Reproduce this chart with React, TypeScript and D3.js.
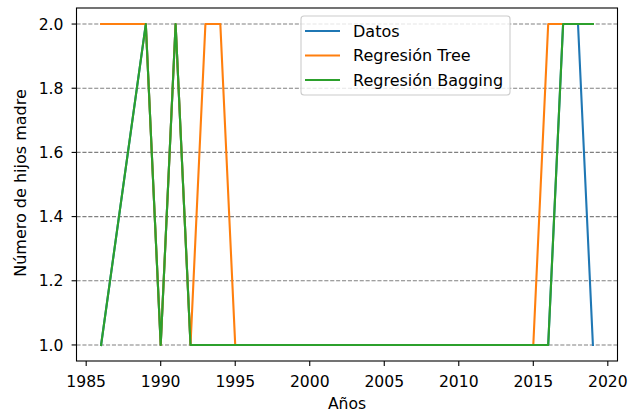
import React from "react";
import * as d3 from "d3";

const years = [1986, 1989, 1990, 1991, 1992, 1993, 1994, 1995, 1996, 1997, 1998, 1999, 2000, 2001, 2002, 2003, 2004, 2005, 2006, 2007, 2008, 2009, 2010, 2011, 2012, 2013, 2014, 2015, 2016, 2017, 2018, 2019];
const datos = [1, 2, 1, 2, 1, 1, 1, 1, 1, 1, 1, 1, 1, 1, 1, 1, 1, 1, 1, 1, 1, 1, 1, 1, 1, 1, 1, 1, 1, 2, 2, 1];
const tree = [2, 2, 1, 2, 1, 2, 2, 1, 1, 1, 1, 1, 1, 1, 1, 1, 1, 1, 1, 1, 1, 1, 1, 1, 1, 1, 1, 1, 2, 2, 2, 2];
const bagging = [1, 2, 1, 2, 1, 1, 1, 1, 1, 1, 1, 1, 1, 1, 1, 1, 1, 1, 1, 1, 1, 1, 1, 1, 1, 1, 1, 1, 1, 2, 2, 2];
const xTicks = [1985, 1990, 1995, 2000, 2005, 2010, 2015, 2020];
const yTicks = [1.0, 1.2, 1.4, 1.6, 1.8, 2.0];
const seriesNames = ["Datos", "Regresión Tree", "Regresión Bagging"];
const seriesColors = ["#1f77b4", "#ff7f0e", "#2ca02c"];

const W = 638, H = 412;
const L = 76.5, R = 617.5, T = 8, B = 361;
const FONT = "DejaVu Sans, sans-serif";
const FS = 15.6;
const FSL = 16;

export default function App() {
  const x = d3.scaleLinear().domain([1984.35, 2020.65]).range([L, R]);
  const y = d3.scaleLinear().domain([0.95, 2.05]).range([B, T]);
  const series = [datos, tree, bagging];
  const line = d3.line<number>().x((_, i) => x(years[i])).y((d) => y(d));

  return (
    <svg width={W} height={H} style={{ position: "absolute", left: 0, top: 0, background: "#fff" }} fontFamily={FONT}>
      <rect x={0} y={0} width={W} height={H} fill="#fff" />
      {yTicks.map((t) => (
        <line key={"g" + t} x1={L} x2={R} y1={y(t)} y2={y(t)} stroke="#808080" strokeWidth={1.1} strokeDasharray="4.1,1.8" />
      ))}
      {series.map((s, i) => (
        <path key={i} d={line(s) || ""} fill="none" stroke={seriesColors[i]} strokeWidth={2.1} strokeLinejoin="round" strokeLinecap="square" />
      ))}
      <rect x={L} y={T} width={R - L} height={B - T} fill="none" stroke="#000" strokeWidth={1.1} />
      {xTicks.map((t) => (
        <g key={"x" + t}>
          <line x1={x(t)} x2={x(t)} y1={B} y2={B + 4.9} stroke="#000" strokeWidth={1.1} />
          <text x={x(t)} y={387} textAnchor="middle" fontSize={FS} fill="#000">{t}</text>
        </g>
      ))}
      {yTicks.map((t) => (
        <g key={"y" + t}>
          <line x1={L - 4.9} x2={L} y1={y(t)} y2={y(t)} stroke="#000" strokeWidth={1.1} />
          <text x={L - 13} y={y(t)} dy="0.36em" textAnchor="end" fontSize={FS} fill="#000">{t.toFixed(1)}</text>
        </g>
      ))}
      <text x={(L + R) / 2} y={408.5} textAnchor="middle" fontSize={FS} fill="#000">Años</text>
      <text transform={`translate(26, 183) rotate(-90)`} textAnchor="middle" fontSize={FSL} fill="#000">Número de hijos madre</text>
      <g>
        <rect x={301} y={16} width={209} height={79} rx={3} fill="#fff" fillOpacity={0.8} stroke="#cccccc" strokeWidth={1.1} />
        {seriesNames.map((n, i) => (
          <g key={n}>
            <line x1={305} x2={340} y1={31 + i * 24.5} y2={31 + i * 24.5} stroke={seriesColors[i]} strokeWidth={2.1} />
            <text x={353} y={31 + i * 24.5} dy="0.36em" fontSize={FSL} fill="#000">{n}</text>
          </g>
        ))}
      </g>
    </svg>
  );
}
